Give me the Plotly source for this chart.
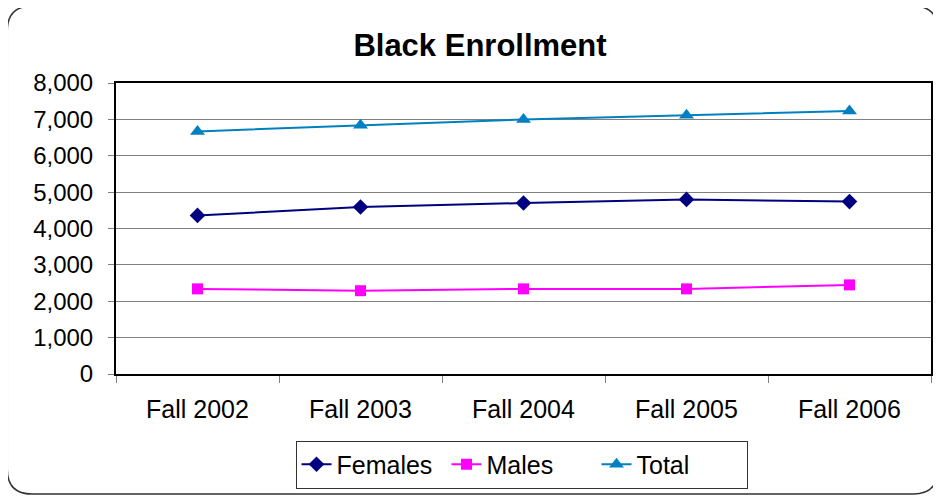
import plotly.graph_objects as go

categories = ["Fall 2002", "Fall 2003", "Fall 2004", "Fall 2005", "Fall 2006"]
females = [4360, 4590, 4700, 4800, 4740]
males = [2340, 2290, 2340, 2340, 2450]
total = [6670, 6840, 7000, 7110, 7230]
y_ticks = [0, 1000, 2000, 3000, 4000, 5000, 6000, 7000, 8000]

OFF = 8  # page body margin
W, H = 941 - OFF, 496 - OFF
L, R, T, B = 116 - OFF, 933 - OFF, 83 - OFF, 374 - OFF  # plot area in figure pixels

def px(x):
    return (x - OFF - L) / (R - L)

def py(y):
    return (B - (y - OFF)) / (B - T)

fig = go.Figure()
fig.add_trace(go.Scatter(x=categories, y=females, name="Females", mode="lines+markers",
                         line=dict(color="#000080", width=2),
                         marker=dict(symbol="diamond", size=12, color="#000080")))
fig.add_trace(go.Scatter(x=categories, y=males, name="Males", mode="lines+markers",
                         line=dict(color="#FF00FF", width=2),
                         marker=dict(symbol="square", size=11, color="#FF00FF")))
fig.add_trace(go.Scatter(x=categories, y=total, name="Total", mode="lines+markers",
                         line=dict(color="#0080C0", width=2),
                         marker=dict(symbol="triangle-up", size=13, color="#0080C0")))

# outer rounded chart border (reference pixel coords)
x0, x1, y0, y1 = px(7), px(940), py(6), py(494)
rx, ry = 25 / (R - L), 25 / (B - T)
path = (f"M {x0+rx},{y0} L {x1-rx},{y0} Q {x1},{y0} {x1},{y0-ry} "
        f"L {x1},{y1+ry} Q {x1},{y1} {x1-rx},{y1} "
        f"L {x0+rx},{y1} Q {x0},{y1} {x0},{y1+ry} "
        f"L {x0},{y0-ry} Q {x0},{y0} {x0+rx},{y0} Z")
fig.add_shape(type="path", path=path, xref="paper", yref="paper",
              line=dict(color="#333333", width=1.5), layer="below")

font = "Liberation Sans, Arial, sans-serif"
fig.update_layout(
    width=W, height=H,
    margin=dict(l=L, r=W - R, t=T, b=H - B, pad=0),
    paper_bgcolor="white", plot_bgcolor="white",
    font=dict(family=font, size=24, color="black"),
    title=dict(text="<b>Black Enrollment</b>", x=(480 - OFF) / W, xanchor="center",
               y=1 - (45 - OFF) / H, yanchor="middle", yref="container",
               font=dict(size=31, family=font, color="black")),
    showlegend=True,
    legend=dict(orientation="h", x=px(522.5), y=py(464.5), xanchor="center", yanchor="middle",
                bordercolor="#333333", borderwidth=1, bgcolor="white",
                font=dict(size=25, family=font), entrywidth=105, entrywidthmode="pixels",
                tracegroupgap=0),
    xaxis=dict(type="category", categoryarray=categories, tickson="boundaries",
               ticks="outside", ticklen=7, tickcolor="#808080", tickwidth=1,
               showline=True, linecolor="black", linewidth=2, mirror=True,
               showgrid=False, ticklabelstandoff=12, range=[-0.5, 4.5],
               tickfont=dict(size=25)),
    yaxis=dict(range=[0, 8000], tickvals=y_ticks, tickformat=",d",
               ticks="outside", ticklen=6, tickcolor="#808080", tickwidth=1,
               showline=True, linecolor="black", linewidth=2, mirror=True,
               showgrid=True, gridcolor="#808080", gridwidth=1,
               zeroline=False, ticklabelstandoff=10, tickfont=dict(size=24)),
)

fig.write_html("out.html")
